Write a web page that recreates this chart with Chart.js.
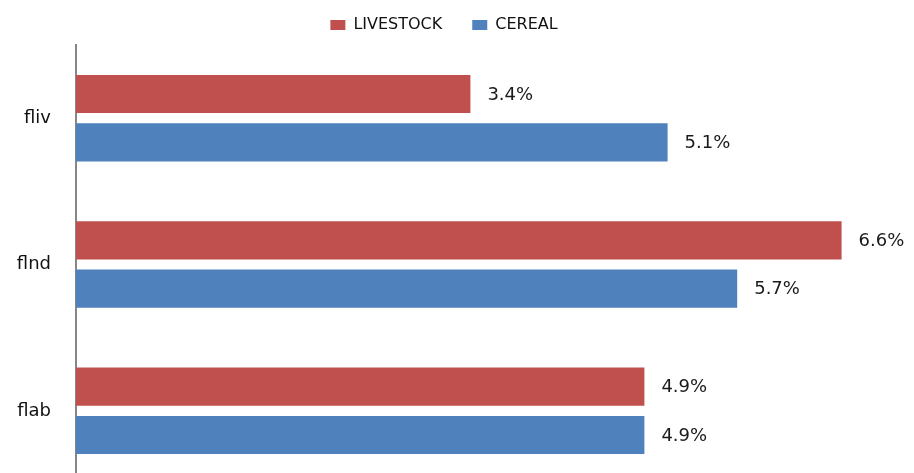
<!DOCTYPE html>
<html>
<head>
<meta charset="utf-8">
<script src="https://cdn.jsdelivr.net/npm/chart.js@4/dist/chart.umd.min.js"></script>
<style>
  html, body { margin: 0; padding: 0; background: #fff; overflow: hidden; }
  #wrap { width: 914px; height: 484px; }
</style>
</head>
<body>
<div id="wrap"><canvas id="chart" width="914" height="484"></canvas></div>
<script>
const categories = ["fliv", "flnd", "flab"];
const livestock = [3.4, 6.6, 4.9];
const cereal = [5.1, 5.7, 4.9];

const FONT = "'DejaVu Sans', Verdana, sans-serif";

// writes "x.x%" to the right of each bar
const valueLabels = {
  id: "valueLabels",
  afterDatasetsDraw(chart) {
    const ctx = chart.ctx;
    ctx.save();
    ctx.font = "18px " + FONT;
    ctx.fillStyle = "#1a1a1a";
    ctx.textAlign = "left";
    ctx.textBaseline = "middle";
    chart.data.datasets.forEach((ds, i) => {
      chart.getDatasetMeta(i).data.forEach((bar, j) => {
        ctx.fillText(ds.data[j].toFixed(1) + "%", bar.x + 17, bar.y + 1);
      });
    });
    ctx.restore();
  },
};

// a little extra room under the legend
const legendGap = {
  id: "legendGap",
  beforeInit(chart) {
    const fit = chart.legend.fit;
    chart.legend.fit = function () {
      fit.call(this);
      this.height += 2;
    };
  },
};

new Chart(document.getElementById("chart"), {
  type: "bar",
  data: {
    labels: categories,
    datasets: [
      { label: "LIVESTOCK", data: livestock, backgroundColor: "#C0504D" },
      { label: "CEREAL", data: cereal, backgroundColor: "#4F81BD" },
    ],
  },
  options: {
    indexAxis: "y",
    responsive: false,
    animation: false,
    layout: { padding: { top: -13, right: 26, left: 0, bottom: 0 } },
    datasets: {
      bar: { categoryPercentage: 0.66, barPercentage: 0.79 },
    },
    scales: {
      x: {
        display: false,
        min: 0,
        max: 7,
      },
      y: {
        grid: { display: false, drawTicks: false },
        border: { color: "#868686", width: 2 },
        ticks: { color: "#111", padding: 25, font: { family: FONT, size: 18 } },
        afterFit(scale) {
          scale.width = 76;
          scale.paddingTop = 0;
          scale.paddingBottom = 0;
        },
      },
    },
    plugins: {
      legend: {
        position: "top",
        labels: {
          boxWidth: 15,
          boxHeight: 10,
          padding: 30,
          color: "#111",
          font: { family: FONT, size: 16 },
        },
      },
      tooltip: { enabled: false },
    },
  },
  plugins: [valueLabels, legendGap],
});
</script>
</body>
</html>
